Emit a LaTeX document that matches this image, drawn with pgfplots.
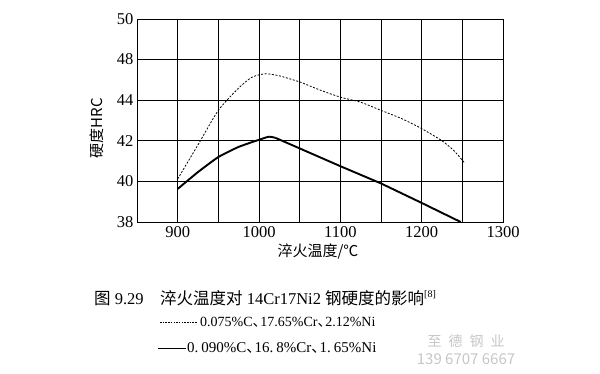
\documentclass[border=0pt]{standalone}
\usepackage{fontspec}
\setmainfont{Liberation Serif}
\newfontfamily\cjk{Noto Sans CJK SC}
\newcommand{\dun}{\makebox[0.55em][l]{\cjk 、}}
\usepackage{pgfplots}
\pgfplotsset{compat=1.18}
\begin{document}
\begin{tikzpicture}[x=1pt,y=1pt]
\path[use as bounding box] (0,0) rectangle (600,374);
\begin{axis}[
  at={(137pt,152pt)}, anchor=south west,
  scale only axis, width=366pt, height=203pt,
  xmin=850, xmax=1300, ymin=38, ymax=48,
  xtick={900,1000,1100,1200,1300},
  minor xtick={850,950,1050,1150,1250},
  ytick={38,40,42,44,46,48},
  yticklabels={38,40,42,44,48,50},
  grid=both,
  major grid style={black, line width=0.8pt},
  minor grid style={black, line width=0.8pt},
  axis line style={line width=0.9pt},
  tick style={draw=none},
  ticklabel style={font=\fontsize{16.5}{16.5}\selectfont},
  /pgf/number format/assume math mode=true,
  /pgf/number format/1000 sep={},
  xticklabel style={yshift=-1pt},
]
\addplot[black, line width=0.8pt, dash pattern=on 2pt off 1.6pt, smooth, tension=0.4] coordinates {
  (900,40.12) (925,41.8) (950,43.5) (975,44.6) (990,45.1) (1000,45.25) (1010,45.3)
  (1025,45.2) (1050,44.9) (1075,44.5) (1100,44.15) (1125,43.9) (1150,43.5)
  (1175,43.1) (1200,42.6) (1225,42.0) (1240,41.5) (1253,40.9)
};
\addplot[black, line width=1.9pt, smooth, tension=0.3] coordinates {
  (900,39.63) (925,40.46) (950,41.2) (975,41.7) (1000,42.05) (1012,42.2) (1020,42.15)
};
\addplot[black, line width=1.9pt] coordinates {
  (1020,42.15) (1100,40.75) (1150,39.9) (1200,38.94) (1248,38.0)
};
\end{axis}
\node[font=\cjk\fontsize{15}{15}\selectfont] at (318,122) {淬火温度/℃};
\node[font=\cjk\fontsize{15}{15}\selectfont, rotate=90] at (97,246) {硬度HRC};
\node[anchor=west, font=\fontsize{16.5}{16.5}\selectfont, inner sep=0pt] at (94,76)
  {{\cjk 图}~9.29\hspace{1em}{\cjk 淬火温度对}~14Cr17Ni2~{\cjk 钢硬度的影响}\raisebox{0.45em}{\fontsize{10}{10}\selectfont[8]}};
\draw[black, line width=0.8pt, dash pattern=on 1.5pt off 1.2pt] (160,52) -- (197,52);
\node[anchor=west, font=\fontsize{14}{14}\selectfont, inner sep=0pt] at (200,52)
  {0.075\%C\dun17.65\%Cr\dun2.12\%Ni};
\draw[black, line width=0.8pt] (158,26) -- (186,26);
\node[anchor=west, font=\fontsize{15}{15}\selectfont, inner sep=0pt] at (187,26)
  {0.\hspace{0.2em}090\%C\dun16.\hspace{0.2em}8\%Cr\dun1.\hspace{0.2em}65\%Ni};
\node[font=\cjk\fontsize{14}{14}\selectfont, text=gray!45] at (466,33) {至\hspace{0.5em}德\hspace{0.5em}钢\hspace{0.5em}业};
\node[font=\cjk\fontsize{15}{15}\selectfont, text=gray!45] at (466,15) {139 6707 6667};
\end{tikzpicture}
\end{document}
